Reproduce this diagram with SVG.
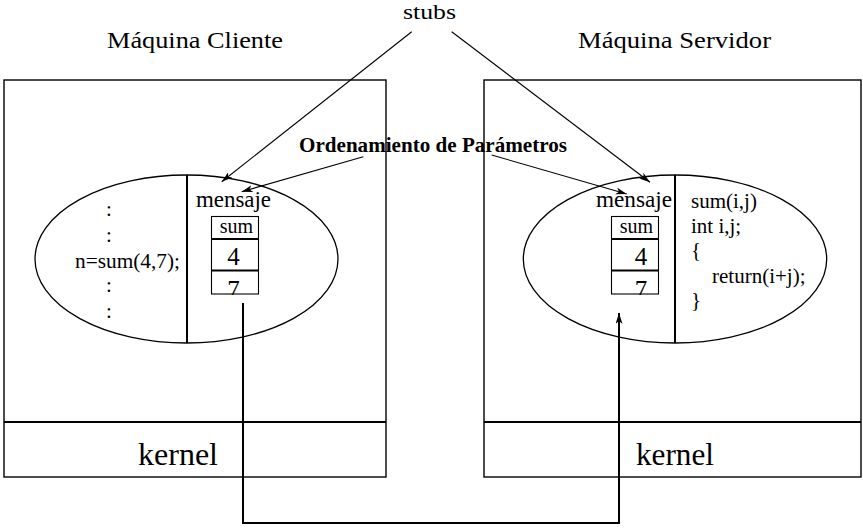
<svg xmlns="http://www.w3.org/2000/svg" width="863" height="529" viewBox="0 0 863 529">
<style>
text{font-family:"Liberation Serif","Times New Roman",serif;fill:#000}
.t{font-size:24px}
.c{font-size:21px}
.k{font-size:32px}
.b{font-size:22px;font-weight:bold}
.box{fill:none;stroke:#000;stroke-width:1.4}
.thick{stroke:#000;stroke-width:2;fill:none}
.thin{stroke:#000;stroke-width:1.1;fill:none}
.ell{fill:none;stroke:#000;stroke-width:1.3}
</style>
<defs>
<marker id="ah" markerUnits="userSpaceOnUse" markerWidth="12" markerHeight="8" refX="11" refY="3.5" orient="auto">
<path d="M0,0 L11,3.5 L0,7 L3,3.5 z" fill="#000"/>
</marker>
<clipPath id="c1"><rect x="211" y="270" width="49" height="25"/></clipPath>
<clipPath id="c2"><rect x="611" y="270" width="49" height="25"/></clipPath>
</defs>

<g id="label-stubs"><text x="403" y="19" font-size="22" textLength="53" lengthAdjust="spacingAndGlyphs">stubs</text></g>
<g id="label-ordenamiento"><text class="b" x="299" y="152" textLength="268" lengthAdjust="spacingAndGlyphs">Ordenamiento de Parámetros</text></g>

<g id="cliente">
<text class="t" x="107" y="48" textLength="176" lengthAdjust="spacingAndGlyphs">Máquina Cliente</text>
<rect class="box" x="4" y="80" width="382" height="397"/>
<line class="thick" x1="4" y1="422" x2="386" y2="422"/>
<text class="k" x="138" y="465" textLength="80" lengthAdjust="spacingAndGlyphs">kernel</text>
<ellipse class="ell" cx="186.5" cy="259" rx="151.5" ry="84"/>
<line class="thick" x1="187" y1="175" x2="187" y2="343"/>
<g class="c" text-anchor="middle">
<text x="109" y="216">:</text>
<text x="109" y="242">:</text>
<text x="109" y="292">:</text>
<text x="109" y="318">:</text>
</g>
<text class="c" x="75" y="268" textLength="105" lengthAdjust="spacingAndGlyphs">n=sum(4,7);</text>
</g>

<g id="mensaje-cliente">
<text class="t" x="196" y="207" textLength="75" lengthAdjust="spacingAndGlyphs">mensaje</text>
<rect class="thin" x="211.5" y="216.5" width="47" height="77.5"/>
<line class="thick" x1="211.5" y1="239" x2="258.5" y2="239"/>
<line class="thick" x1="211.5" y1="270.5" x2="258.5" y2="270.5"/>
<text x="236.5" y="233" font-size="20" text-anchor="middle">sum</text>
<text x="233.5" y="265" font-size="25" text-anchor="middle">4</text>
<text x="233.5" y="298" font-size="25" text-anchor="middle" clip-path="url(#c1)">7</text>
</g>

<g id="servidor">
<text class="t" x="578" y="48" textLength="193" lengthAdjust="spacingAndGlyphs">Máquina Servidor</text>
<rect class="box" x="484" y="80" width="377" height="397"/>
<line class="thick" x1="484" y1="422" x2="861" y2="422"/>
<text class="k" x="636" y="465" textLength="78" lengthAdjust="spacingAndGlyphs">kernel</text>
<ellipse class="ell" cx="675" cy="259" rx="151.7" ry="84"/>
<line class="thick" x1="675" y1="175" x2="675" y2="343"/>
<g class="c">
<text x="691" y="208">sum(i,j)</text>
<text x="691" y="233">int i,j;</text>
<text x="691" y="257">{</text>
<text x="712" y="283">return(i+j);</text>
<text x="691" y="307">}</text>
</g>
</g>

<g id="mensaje-servidor">
<text class="t" x="596" y="207" textLength="76" lengthAdjust="spacingAndGlyphs">mensaje</text>
<rect class="thin" x="611.5" y="216.5" width="47" height="77.5"/>
<line class="thick" x1="611.5" y1="239" x2="658.5" y2="239"/>
<line class="thick" x1="611.5" y1="270.5" x2="658.5" y2="270.5"/>
<text x="636.5" y="233" font-size="20" text-anchor="middle">sum</text>
<text x="641" y="265" font-size="25" text-anchor="middle">4</text>
<text x="641" y="298" font-size="25" text-anchor="middle" clip-path="url(#c2)">7</text>
</g>

<g id="connectors">
<line class="thin" x1="411.7" y1="31.7" x2="221.7" y2="181.7" marker-end="url(#ah)"/>
<line class="thin" x1="451.7" y1="31.7" x2="650" y2="182.3" marker-end="url(#ah)"/>
<line class="thin" x1="363.3" y1="156.7" x2="241.7" y2="191.7" marker-end="url(#ah)"/>
<line class="thin" x1="491.7" y1="155" x2="626.7" y2="194" marker-end="url(#ah)"/>
<polyline class="thick" points="243,303 243,523 619,523 619,313" marker-end="url(#ah)"/>
</g>
</svg>
